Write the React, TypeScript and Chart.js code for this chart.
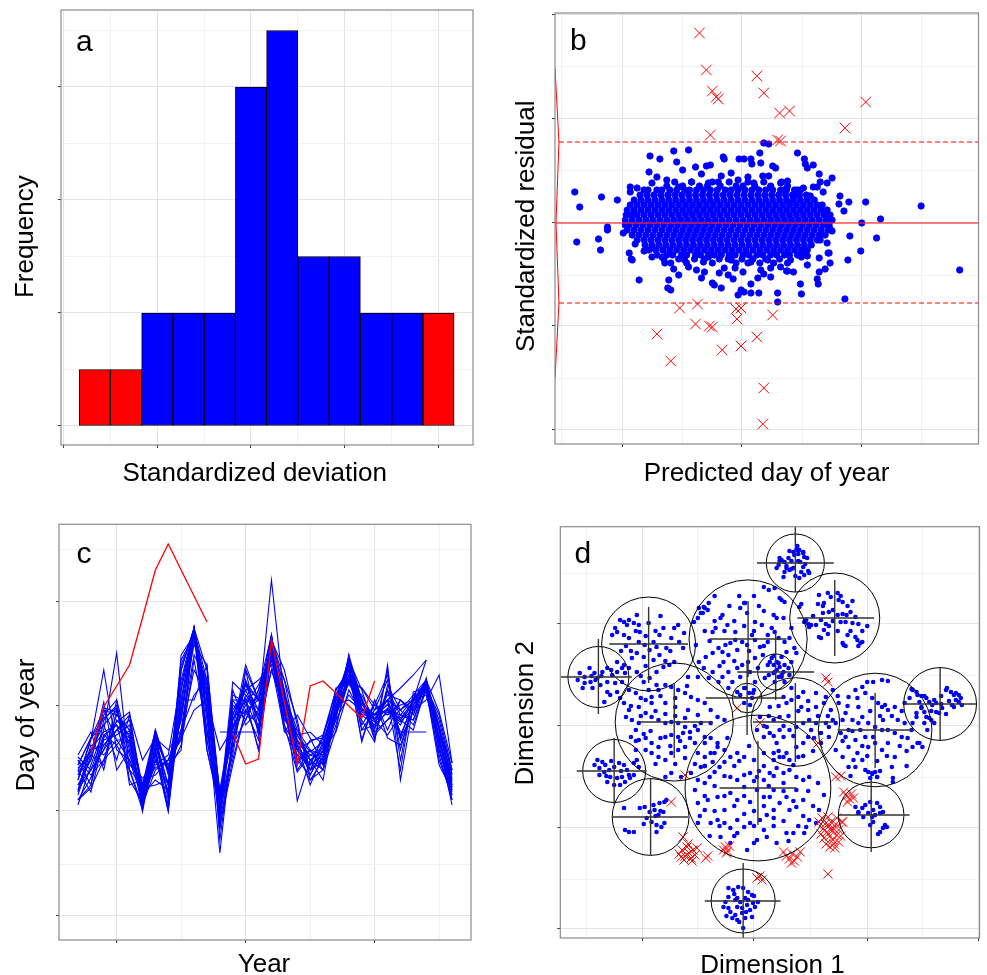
import React, { useEffect, useRef } from "react";
import { Chart, registerables } from "chart.js";
Chart.register(...registerables);

const FONT = "'Liberation Sans', Arial, Helvetica, sans-serif";
const BLUE = "#0000ff";
const RED = "#ff0000";
const N = null;

// ---------------- Panel a : histogram of standardized deviations
const binCenters = [-1.667, -1.333, -1, -0.667, -0.333, 0, 0.333, 0.667, 1, 1.333, 1.667, 2];
const binCounts = [1, 1, 2, 2, 2, 6, 7, 3, 3, 2, 2, 2];
const binOutlier = [true, true, false, false, false, false, false, false, false, false, false, true];
const aXTicks = [-2, -1, 0, 1, 2];
const aXMinor = [-1.5, -0.5, 0.5, 1.5];
const aYTicks = [0, 2, 4, 6];
const aYMinor = [1, 3, 5, 7];

// ---------------- Panel b : residuals vs predicted day
const bXTicks = [123, 244, 365];
const bXMinor = [62, 184, 305, 425];
const bYTicks = [-207, -103, 0, 104, 208];
const bYMinor = [-155, -52, 52, 156];
const bBand = [81, -80];
const bBandFrom = 59;
const bCurve = [55, 155, 59, 81, 56, 0, 59, -80, 55, -155];
const bOutliers = [201,190, 208,153, 214,132, 218,126, 220,124, 212,88, 259,147, 266,130, 282,110, 292,112, 369,121, 348,95, 280,83, 283,82,
  181,-85, 199,-81, 197,-101, 211,-103, 214,-104, 158,-111, 172,-138, 224,-127, 243,-123, 259,-114, 238,-86, 243,-85, 239,-96, 275,-92, 266,-165, 265,-201];
const bFringe = [75,31, 80,16, 77,-19, 99,-16, 101,-27, 102,26, 118,23, 108,-7, 108,-4, 124,-10, 130,-30, 132,-36, 140,-57, 145,-28, 131,36, 131,31, 138,35, 145,33,
  151,67, 161,64, 175,72, 190,73, 178,61, 184,53, 197,56, 208,57, 212,58, 203,49, 225,66, 226,64, 223,47, 233,50, 241,64, 246,64, 253,64, 254,59, 263,60, 262,70,
  266,80, 271,79, 275,57, 278,55, 265,47, 271,47, 300,70, 307,64, 308,59, 316,58, 310,55, 322,49, 335,45, 330,40, 323,41, 283,40, 290,42, 300,33, 299,28, 292,20,
  313,27, 320,36, 326,31, 343,27, 342,19, 352,21, 347,12, 369,21, 425,17, 384,4, 365,0, 353,-13, 380,-15, 364,-28, 351,-37, 464,-47, 348,-76, 333,-6, 335,-8,
  330,-20, 331,-30, 333,-40, 328,-46, 322,-49, 320,-56, 321,-61, 310,-42, 310,-33, 304,-34, 303,-61, 304,-71, 296,-49, 289,-48, 280,-70, 280,-79, 261,-70,
  253,-61, 253,-70, 246,-69, 240,-72, 243,-67, 235,-56, 230,-52, 223,-65, 216,-62, 214,-60, 206,-49, 203,-55, 170,-57, 169,-65, 172,-67, 136,-21, 133,-37,
  153,-25, 163,-34, 175,-46, 180,-52, 190,-44, 198,-47, 205,-39, 221,-50, 226,-45, 237,-45, 245,-49, 263,-47, 273,-45, 283,-44, 290,-48, 322,-35, 332,-30,
  273,-54, 266,-51, 260,-55, 150,51, 158,46, 153,40, 168,43, 180,36, 193,41, 210,40, 220,41, 240,43, 250,46, 256,40, 273,36, 286,33, 306,35, 316,36,
  153,-34, 166,-40, 186,-37, 210,-34, 233,-37, 253,-39, 270,-37, 293,-37, 306,-30];
// dense core of the cloud: [residual, predicted days...]
const bCoreRows = [
  [41, 176,193,214,231,250,266,284],
  [37, 168,184,201,209,222,238,245,257,273,290],
  [33, 149,158,163,171,178,186,191,198,205,212,219,227,233,240,247,254,261,268,275,283,289,297,303],
  [28, 141,148,155,162,169,176,183,190,197,204,211,218,225,232,239,246,253,260,267,274,281,288,295,302,309],
  [23, 135,142,149,156,163,170,177,184,191,198,205,212,219,226,233,240,247,254,261,268,275,282,289,296,303,310,317],
  [18, 131,138,145,152,159,166,173,180,187,194,201,208,215,222,229,236,243,250,257,264,271,278,285,292,299,306,313,320,325],
  [13, 128,135,142,149,156,163,170,177,184,191,198,205,212,219,226,233,240,247,254,261,268,275,282,289,296,303,310,317,324,330],
  [8, 127,132,138,145,152,159,166,173,180,187,194,201,208,215,222,229,236,243,250,257,264,271,278,285,292,299,306,313,320,327,333],
  [3, 126,133,140,147,154,161,168,175,182,189,196,203,210,217,224,231,238,245,252,259,266,273,280,287,294,301,308,315,322,329,335],
  [-2, 126,130,137,144,151,158,165,172,179,186,193,200,207,214,221,228,235,242,249,256,263,270,277,284,291,298,305,312,319,326,332],
  [-7, 128,135,142,149,156,163,170,177,184,191,198,205,212,219,226,233,240,247,254,261,268,275,282,289,296,303,310,317,324,331],
  [-12, 133,140,147,154,161,168,175,182,189,196,203,210,217,224,231,238,245,252,259,266,273,280,287,294,301,308,315,322,328],
  [-17, 138,145,152,159,166,173,180,187,194,201,208,215,222,229,236,243,250,257,264,271,278,285,292,299,306,313,320,323],
  [-22, 146,153,160,167,174,181,188,195,202,209,216,223,230,237,244,251,258,265,272,279,286,293,300,307,314],
  [-27, 150,157,164,171,178,185,192,199,206,213,220,227,234,241,248,255,262,269,276,283,290,297,304,310],
  [-32, 158,168,174,183,188,197,202,210,216,223,231,237,245,251,259,265,273,279,287,292,300],
  [-36, 165,180,196,206,221,230,244,255,268,282],
  [-40, 172,188,214,238,250,262,276,290],
];

// ---------------- Panel c : day of year per year
const cYears = [1977,1978,1979,1980,1981,1982,1983,1984,1985,1986,1987,1988,1989,1990,1991,1992,1993,1994,1995,1996,1997,1998,1999,2000,2001,2002,2003,2004,2005,2006];
const cXTicks = [1980, 1990, 2000];
const cXMinor = [1985, 1995, 2005];
const cYTicks = [84, 189, 294, 398];
const cYMinor = [136, 241, 346, 450];
const cRed = [
  [N,247,293,314,335,382,430,456,430,404, 378,N,N,N,N,N,N,N,N,N, N,N,N,N,N,N,N,N,N,N],
  [N,N,N,N,N,N,N,N,N,N, N,N,267,236,241,360,298,236,314,319, 307,294,282,319,N,N,N,N,N,N],
];
const cBlue = [
  [235,262,290,260,240,200,262,215,330,372, 260,195,300,280,310,350,275,250,230,255, 300,335,270,290,320,250,300,318,270,215],
  [210,230,250,285,270,195,230,240,260,370, 320,185,250,330,270,362,300,240,250,230, 285,345,300,265,280,290,275,310,245,200],
  [225,250,275,240,285,210,250,195,300,368, 290,200,280,300,250,345,320,280,220,240, 275,320,290,280,300,265,295,312,285,230],
  [200,215,265,275,230,190,265,230,280,372, 300,180,240,290,300,365,290,235,260,262, 310,330,260,300,270,300,285,322,250,210],
  [245,268,230,290,255,205,220,210,340,365, 250,190,310,275,290,340,280,270,240,220, 290,340,310,270,330,240,305,308,265,225],
  [215,240,285,300,220,198,245,188,310,372, 330,160,260,320,280,355,305,260,225,250, 268,310,285,285,290,280,270,315,240,205],
  [230,208,260,265,275,215,270,225,270,360, 310,195,290,310,320,335,270,245,235,265, 300,325,300,262,310,260,290,320,288,237],
  [205,245,298,230,250,200,235,245,320,372, 280,175,235,290,260,362,310,255,215,245, 280,345,275,295,285,295,300,305,255,195],
  [240,225,240,280,265,188,255,205,290,355, 335,200,270,335,300,350,290,230,250,235, 312,315,305,280,265,285,280,318,275,220],
  [220,260,330,250,240,210,260,235,250,372, 270,185,300,300,270,360,330,275,230,258, 290,340,290,290,300,230,308,312,260,215],
  [195,235,270,347,230,195,240,215,310,368, 300,190,255,280,310,365,285,260,245,240, 305,335,280,258,335,220,295,320,262,200],
  [230,250,255,270,280,205,265,200,345,365, 315,180,285,315,290,420,300,240,225,250, 285,325,295,285,290,275,300,315,270,230],
  [240,215,280,295,215,220,225,240,280,370, 290,147,265,295,315,345,310,199,240,230, 295,330,270,275,310,285,280,310,235,210],
  [210,255,245,260,260,200,250,190,330,372, 250,195,318,305,285,355,280,265,268,255, 300,340,300,268,280,300,290,300,325,237],
  [225,240,290,285,270,212,215,220,300,300, 335,205,275,290,275,330,295,250,235,262, 280,305,290,285,295,280,300,340,N,N],
  [215,230,250,270,262,215,262,250,270,305, 320,N,N,N,N,N,N,N,N,N, N,N,N,N,N,N,N,N,N,N],
  [N,N,N,N,N,N,N,N,N,N, N,268,268,268,268,330,290,265,240,248, 285,318,285,275,288,278,292,312,N,N],
  [235,262,275,290,245,205,268,228,255,340, 270,210,260,300,300,350,305,270,250,245, 290,320,312,290,300,268,268,268,N,N],
  [N,N,N,N,N,N,N,N,N,N, 268,200,270,305,290,360,300,255,235,245, 290,325,292,282,296,282,298,316,262,212],
  [200,222,262,278,288,198,240,210,285,368, 305,190,245,320,265,365,285,245,220,230, 270,335,300,260,315,290,305,320,250,205],
  [228,245,235,300,250,208,270,230,315,372, 285,198,295,285,305,345,275,228,245,252, 305,330,258,300,262,255,290,314,280,226],
  [N,N,N,N,N,N,N,N,N,N, N,N,N,N,N,N,N,N,N,N, N,N,N,285,300,312,325,340,N,N],
  [243,230,265,255,270,192,255,215,300,372, 260,188,280,310,280,360,320,255,230,238, 295,300,290,280,305,300,285,318,270,218],
  [220,262,282,292,235,222,232,240,262,290, 300,250,272,302,285,345,294,250,230,242, 288,322,288,278,292,280,295,313,258,208],
  [208,250,268,275,258,202,246,190,295,366, 310,170,260,330,300,358,300,250,258,265, 310,330,302,272,290,285,302,316,262,213],
  [N,222,255,270,285,240,262,230,265,330, 305,210,285,318,300,350,300,260,240,250, 295,330,290,282,N,N,N,N,N,N],
  [200,212,240,255,230,215,238,235,268,345, 320,205,280,315,300,345,305,265,248,258, 300,340,295,286,300,290,300,320,272,230],
  [232,248,292,288,262,200,260,205,335,370, 290,192,305,298,250,352,268,285,262,235, 285,318,312,295,325,262,300,316,258,222],
];

// ---------------- Panel d : two-dimensional ordination with clusters
const dXTicks = [-113, 0, 115, 228];
const dXMinor = [-170, -57, 57, 171];
const dYTicks = [-203, -102, 0, 102];
const dYMinor = [-153, -51, 51, 153];
// [centre x, centre y, radius, cross x from, cross x to, cross y from, cross y to]
const dClusters = [
  [42,163,29.5,3,81,134,205], [82,108,45.7,44,122,70,146], [189,22,37,152,226,-15,58], [123,-4,57.7,85,163,-42,33],
  [119,-89,33.3,86,158,-126,-54], [42,4,45,-1,81,-36,43], [4,-62,74,-35,43,-99,-15], [-6,87,60,-45,33,49,125],
  [22,54,18.3,-17,61,26,93], [-7,28,15,-49,31,-9,64], [-81,4,60,-117,-42,-32,43], [-107,82,47.7,-147,-67,43,119],
  [-158,49,31,-196,-124,12,87], [-142,-45,32,-180,-109,-78,-12], [-105,-91,39,-144,-67,-129,-52], [-11,-175,32.5,-50,27,-215,-137],
];
const dBlue = [
  44,180, 46,176, 50,174, 41,171, 51,169, 54,168, 47,164, 50,159, 40,158, 33,158, 30,149, 31,154, 25,161, 23,158, 28,166, 31,164, 36,156, 48,154, 51,151, 56,153, 43,176, 40,174, 45,172, 35,168, 26,168, 50,173, 26,165, 33,160, 55,155, 46,148, 38,157, 45,165, 36,175, 52,162, 38,165, 42,150,
  66,131, 75,133, 78,129, 85,133, 88,130, 90,124, 86,126, 71,123, 65,122, 48,122, 46,119, 70,113, 76,114, 80,116, 85,111, 90,112, 98,114, 94,111, 68,106, 58,101, 63,101, 73,102, 76,100, 88,104, 93,104, 100,103, 106,102, 98,95, 95,91, 103,89, 105,86, 108,83, 90,83, 93,80, 68,88, 51,104, 55,102, 103,109, 53,106, 56,99, 66,89, 71,96, 91,81, 106,80, 110,84,
  60,110, 70,120, 80,105, 95,120, 110,95, 115,100, 75,92, 85,95, 100,125,
  161,36, 165,34, 175,28, 178,24, 183,26, 185,23, 181,21, 170,18, 173,14, 165,13, 175,9, 178,8, 185,14, 191,18, 188,13, 195,36, 200,34, 205,33, 208,31, 210,28, 205,26, 201,21, 203,19, 208,24, 211,21, 160,37, 166,31, 173,30, 170,19, 165,9, 173,3, 180,6, 190,22, 196,38, 203,31, 153,23, 158,28, 161,3, 168,-17, 171,-21, 176,-4, 183,3,
  170,30, 180,15, 190,30, 198,25, 195,12, 168,24,
  80,36, 86,23, 96,29, 103,36, 110,39, 115,44, 121,44, 130,46, 136,45, 113,33, 120,28, 126,23, 133,21, 106,19, 93,13, 100,6, 110,9, 116,3, 123,-1, 130,-4, 136,-4, 143,-7, 150,-11, 156,-12, 160,-4, 88,-7, 93,-11, 103,-14, 96,-21, 105,-27, 110,-34, 116,-21, 123,-17, 130,-24, 136,-17, 143,-31, 140,-41, 120,-47, 125,-51, 141,-56, 103,-41, 96,-41, 76,-11, 83,3, 90,6, 108,-4, 113,-11, 131,6, 146,6, 153,3, 161,-21, 166,-17, 83,-24, 90,-31, 101,-34, 113,-44, 121,-11, 130,19, 136,16, 143,19, 106,3, 96,-4,
  85,30, 95,20, 105,28, 118,15, 128,10, 140,10, 150,15, 155,-25, 148,-20, 135,-30, 125,-35, 115,-30, 100,-5, 90,-15, 110,-20, 128,-45, 155,-40, 98,-50,
  116,-46, 120,-48, 123,-46, 125,-51, 118,-52, 141,-52, 103,-81, 106,-86, 110,-82, 113,-79, 118,-76, 125,-77, 128,-81, 121,-84, 123,-89, 120,-91, 116,-87, 128,-87, 131,-86, 121,-96, 118,-99, 133,-99, 131,-102, 128,-106, 126,-108, 135,-101, 106,-87, 111,-91,
  13,-1, 20,6, 26,9, 33,23, 38,26, 45,29, 48,19, 55,16, 63,19, 71,23, 78,16, 80,6, 73,3, 63,3, 56,6, 50,3, 43,-1, 36,-4, 30,-11, 23,-17, 20,-27, 26,-31, 33,-27, 43,-21, 50,-17, 55,-11, 61,-12, 68,-7, 58,-4, 26,-4, 16,-7, 10,-11, 3,-4, 6,9, 16,19, 30,29, 38,38, 50,34, 63,33, 73,29, 76,-1, 68,-17, 45,-31, 36,-34,
  15,10, 25,20, 35,10, 45,15, 55,25, 65,10, 75,10, 60,-25, 50,-30, 40,-10, 30,0, 20,-10, 10,0,
  -57,-54, -50,-57, -45,-51, -40,-46, -35,-41, -30,-36, -24,-31, -17,-27, -44,-27, -37,-21, -27,-12, -50,-17, -24,-51, -17,-54, -10,-49, -4,-47, 3,-51, 10,-54, 16,-47, 23,-42, 30,-47, 36,-44, 43,-51, 50,-54, 43,-64, 33,-71, 26,-77, 20,-84, 13,-89, 6,-94, -4,-97, -10,-101, -17,-107, -24,-102, -30,-97, -37,-94, -44,-97, -50,-84, -57,-77, -47,-74, -37,-71, -24,-67, -17,-74, -4,-76, 10,-71, 20,-64, 30,-57, 36,-84, 43,-81, 50,-74, 56,-94, 63,-97, 66,-84, 71,-69, 65,-57, 56,-51, 40,-107, 33,-107, 23,-117, 13,-111, 3,-114, 0,-117, -17,-94, -30,-84, -57,-97, -60,-64, -10,-61, 3,-64, 16,-71, -54,-41, -42,-36, -10,-31, 0,-34, 10,-27, 20,-34, 30,-31, 40,-39, 10,-104, 51,-107, 53,-101, -34,-111, -24,-117, -7,-124,
  -50,-40, -40,-60, -30,-50, -20,-40, -10,-70, 0,-55, 10,-40, 20,-50, 30,-65, 40,-75, 50,-90, 45,-100, 30,-95, 20,-100, 10,-80, 0,-85, -10,-88, -20,-80, -30,-70, -40,-85, -50,-70, -55,-90, -45,-110, -35,-100, -20,-110, 0,-100, 20,-92, 35,-115, 55,-65, 60,-80, 25,-25, -5,-20, -15,-35, 5,-45, 15,-60,
  -56,118, -51,119, -47,116, -46,123, -52,113, -57,108, -61,104, -32,111, -34,108, -42,94, -39,98, -19,94, -14,118, -9,123, -7,113, 1,104, 8,101, 14,91, 18,98, -2,91, -12,84, -19,86, -24,83, -29,81, -36,78, -42,73, -32,74, -26,71, -17,76, -7,81, 1,86, 6,79, 14,84, 9,71, 1,68, -6,64, -12,61, -17,58, -26,54, -32,49, -36,44, -42,54, -51,58, -46,48, -22,44, -14,49, -4,54, 4,58, 14,61, 11,48, 1,44, -9,38, -17,34, -26,38, -1,33, -49,69, -56,64, -59,81, -31,64, -27,101, 21,138, 28,126, 31,124, 20,111, 23,108, 30,108, 38,98, 21,94, 25,88, 31,84, 36,88, 41,78, 43,73, 33,74, 28,69, 23,64, 31,61, 38,64, 21,54, 28,51, 10,139, 15,136, 26,128, -10,123, -50,118, -54,113,
  -40,105, -30,95, -20,105, -10,100, 0,95, 10,115, -25,120, -15,130, 0,130, -35,60, -20,65, -5,75, 10,80, 20,70, -45,85, -50,95, 5,120, -40,130,
  18,68, 20,61, 23,56, 26,59, 30,54, 25,49, 31,44, 21,44, 35,58, 20,53, 16,64, 25,63, 15,51, 28,49, 36,51,
  -10,38, -5,33, -2,28, -10,23, -14,31, -4,21, 0,36,
  -132,23, -127,16, -130,9, -124,6, -117,3, -120,-4, -125,-11, -117,-14, -110,-12, -104,-17, -97,-21, -90,-11, -84,-9, -77,-11, -72,-7, -65,-6, -70,-1, -77,3, -84,4, -90,3, -97,6, -104,9, -110,13, -117,19, -110,26, -104,29, -97,36, -90,41, -84,39, -77,36, -70,33, -64,29, -57,26, -50,23, -44,16, -37,9, -30,6, -44,3, -54,3, -57,-4, -50,-11, -44,-12, -37,-17, -30,-24, -40,-27, -50,-31, -57,-27, -60,-17, -70,-21, -77,-24, -84,-27, -90,-34, -97,-31, -104,-27, -110,-24, -120,-24, -90,-51, -84,-47, -74,-51, -64,-47, -104,23, -90,23, -80,19, -67,16, -57,11, -127,36, -120,33, -107,36, -67,49, -57,49,
  -125,20, -115,10, -100,15, -90,12, -80,10, -70,8, -60,0, -65,-12, -75,-15, -85,-20, -95,-12, -105,-5, -112,-8, -120,-15, -100,-38, -80,-38, -70,-32, -60,-38, -50,-40, -95,30, -80,28, -68,40, -115,28,
  -136,106, -132,104, -129,101, -127,106, -122,103, -119,111, -117,101, -141,98, -144,91, -139,94, -132,91, -127,88, -116,94, -107,103, -102,84, -99,79, -106,76, -111,81, -119,73, -124,68, -112,69, -102,66, -96,71, -89,78, -84,88, -81,98, -92,98, -96,91, -77,101, -76,84, -71,93, -72,78, -81,64, -86,61, -92,59, -99,54, -106,48, -112,44, -99,41, -119,54, -127,58, -132,61, -139,64, -117,84,
  -130,80, -120,95, -110,90, -100,95, -95,110, -85,75, -90,65, -110,60, -125,75, -135,75, -115,50,
  -177,53, -172,49, -167,58, -162,53, -159,48, -154,54, -149,58, -144,51, -139,54, -134,58, -131,53, -166,44, -172,43, -174,38, -164,38, -156,41, -149,34, -146,31, -139,34, -136,28, -152,24, -161,46, -179,46, -149,44, -141,43, -134,44, -155,50, -145,56, -165,50,
  -159,-34, -154,-36, -151,-39, -157,-42, -152,-46, -147,-44, -142,-41, -137,-37, -132,-39, -129,-44, -127,-49, -134,-51, -139,-52, -146,-51, -149,-56, -142,-59, -136,-59, -131,-56, -126,-52, -122,-49, -117,-41, -122,-37, -119,-34, -162,-39, -157,-49, -145,-35, -135,-45, -150,-50,
  -132,-82, -116,-82, -111,-81, -106,-86, -101,-84, -96,-77, -91,-76, -92,-86, -97,-89, -104,-96, -99,-99, -94,-101, -91,-97, -99,-106, -109,-92, -102,-79, -131,-104, -127,-106, -122,-106, -89,-74, -100,-90, -112,-98, -95,-85,
  -26,-162, -21,-164, -16,-161, -11,-162, -6,-166, -2,-169, -9,-172, -14,-176, -19,-174, -26,-171, -29,-176, -26,-182, -17,-181, -12,-182, -7,-179, -1,-177, 4,-176, 1,-181, -4,-184, -12,-187, -19,-189, -22,-192, -17,-194, -9,-192, -2,-191, -11,-202, -17,-172, -6,-174, -31,-181, -24,-186, -20,-168, -8,-186, -15,-196, 0,-170, -28,-190,
];
const dOutliers = [73,48, 75,44, -17,18, 6,3, 65,-17, -70,-49, -84,-76, -72,-111,
  -76,-128, -73,-124, -70,-130, -68,-121, -66,-127, -64,-132, -62,-124, -60,-129, -58,-122, -71,-134, -67,-118, -63,-135, -74,-131, -49,-132, -47,-130,
  -31,-124, -29,-121, -27,-125, -25,-120, -28,-127, 3,-152, 8,-154, 6,-150,
  30,-126, 33,-130, 36,-133, 39,-128, 41,-135, 44,-131, 38,-137, 47,-126,
  66,-96, 69,-92, 72,-98, 75,-91, 78,-96, 80,-102, 83,-98, 86,-104, 74,-106, 77,-110, 80,-114, 84,-109, 71,-112, 73,-118, 77,-121, 81,-118, 86,-116, 88,-110, 79,-105, 70,-103, 89,-96, 84,-92, 76,-100, 82,-122, 68,-108,
  75,-148, 91,-66, 94,-70, 97,-73, 99,-68, 95,-76, 101,-72, 83,-51, 88,-50, 90,-96];

// ---------------- helpers
const pairs = (flat: number[]) => {
  const out: { x: number; y: number }[] = [];
  for (let i = 0; i < flat.length; i += 2) out.push({ x: flat[i], y: flat[i + 1] });
  return out;
};

function axis(min: number, max: number, major: number[], minor: number[], fixed: { w?: number; h?: number }) {
  return {
    type: "linear",
    min,
    max,
    offset: false,
    afterBuildTicks: (s: any) => {
      s.ticks = [...major.map((v) => ({ value: v, major: true })), ...minor.map((v) => ({ value: v, major: false }))].sort(
        (p, q) => p.value - q.value
      );
    },
    afterFit: (s: any) => {
      if (fixed.w !== undefined) s.width = fixed.w;
      if (fixed.h !== undefined) s.height = fixed.h;
    },
    ticks: { display: false },
    border: { display: false },
    title: { display: false },
    grid: {
      offset: false,
      drawTicks: true,
      tickLength: 3,
      color: (c: any) => (c.tick && c.tick.major ? "#e4e4e4" : "#f1f1f1"),
      lineWidth: (c: any) => (c.tick && c.tick.major ? 1.1 : 0.9),
      tickColor: (c: any) => (c.tick && c.tick.major ? "#333333" : "rgba(0,0,0,0)"),
      tickWidth: 1,
    },
  };
}

type Txt = { t: string; x: number; y: number; size: number; rot?: boolean; align?: CanvasTextAlign; base?: CanvasTextBaseline };

function framePlugin(texts: Txt[]) {
  return {
    id: "frame",
    afterDraw(chart: any) {
      const { ctx, chartArea: a } = chart;
      ctx.save();
      ctx.strokeStyle = "#8a8a8a";
      ctx.lineWidth = 1.2;
      ctx.strokeRect(a.left, a.top, a.right - a.left, a.bottom - a.top);
      ctx.fillStyle = "#000";
      for (const s of texts) {
        ctx.save();
        ctx.font = `${s.size}px ${FONT}`;
        ctx.textAlign = s.align || "center";
        ctx.textBaseline = s.base || "middle";
        ctx.translate(s.x, s.y);
        if (s.rot) ctx.rotate(-Math.PI / 2);
        ctx.fillText(s.t, 0, 0);
        ctx.restore();
      }
      ctx.restore();
    },
  };
}

function common(pad: { top: number; right: number }) {
  return {
    animation: false,
    responsive: false,
    devicePixelRatio: 1,
    events: [],
    layout: { padding: { left: 0, top: pad.top, right: pad.right, bottom: 0 } },
    plugins: { legend: { display: false }, tooltip: { enabled: false } },
  };
}

// ---------------- chart configs
function configA(): any {
  return {
    type: "bar",
    data: {
      datasets: [
        {
          data: binCenters.map((x, i) => ({ x, y: binCounts[i] })),
          backgroundColor: binOutlier.map((o) => (o ? RED : BLUE)),
          borderColor: "#000",
          borderWidth: 1,
          borderSkipped: false,
          barPercentage: 1,
          categoryPercentage: 1,
        },
      ],
    },
    options: {
      ...common({ top: 10, right: 20 }),
      scales: {
        x: axis(-2.027, 2.368, aXTicks, aXMinor, { h: 45 }),
        y: axis(-0.336, 7.363, aYTicks, aYMinor, { w: 61 }),
      },
    },
    plugins: [
      framePlugin([
        { t: "a", x: 76, y: 50.5, size: 30, align: "left", base: "alphabetic" },
        { t: "Standardized deviation", x: 254.7, y: 474.3, size: 26 },
        { t: "Frequency", x: 26, y: 236.7, size: 26, rot: true },
      ]),
    ],
  };
}

function configB(): any {
  const bXMin = 55, bXMax = 483;
  const core: { x: number; y: number }[] = [];
  for (const row of bCoreRows) for (let i = 1; i < row.length; i++) core.push({ x: row[i], y: row[0] });
  const bandData: any[] = [];
  for (const v of bBand) bandData.push({ x: bBandFrom, y: v }, { x: bXMax, y: v }, { x: bXMax, y: null });
  return {
    type: "scatter",
    data: {
      datasets: [
        { type: "line", data: [{ x: bXMin, y: 0 }, { x: bXMax, y: 0 }], borderColor: "rgba(255,40,40,0.8)", borderWidth: 1.6, pointRadius: 0 },
        { type: "line", data: bandData, borderColor: RED, borderWidth: 1, borderDash: [5, 3], pointRadius: 0, spanGaps: false },
        { type: "line", data: pairs(bCurve), borderColor: RED, borderWidth: 1, pointRadius: 0 },
        { data: pairs(bOutliers), pointStyle: "crossRot", pointRadius: 7.5, borderColor: RED, pointBorderColor: RED, pointBorderWidth: 1, backgroundColor: "rgba(0,0,0,0)" },
        { data: [...pairs(bFringe), ...core], pointRadius: 3.2, pointBorderWidth: 0.8, backgroundColor: BLUE, pointBackgroundColor: BLUE, borderColor: BLUE, pointBorderColor: BLUE },
      ],
    },
    options: {
      ...common({ top: 13, right: 4 }),
      scales: {
        x: axis(bXMin, bXMax, bXTicks, bXMinor, { h: 46 }),
        y: axis(-221, 210, bYTicks, bYMinor, { w: 62 }),
      },
    },
    plugins: [
      framePlugin([
        { t: "b", x: 77, y: 50, size: 30, align: "left", base: "alphabetic" },
        { t: "Predicted day of year", x: 273.5, y: 474.3, size: 26 },
        { t: "Standardized residual", x: 33.5, y: 226.3, size: 26, rot: true },
      ]),
    ],
  };
}

function configC(): any {
  const toPts = (arr: (number | null)[]) => arr.map((v, i) => ({ x: cYears[i], y: v }));
  const red = cRed.map((arr) => ({ data: toPts(arr), borderColor: RED, borderWidth: 1.3, pointRadius: 0, spanGaps: false, tension: 0 }));
  const blue = cBlue.map((arr) => ({ data: toPts(arr), borderColor: BLUE, borderWidth: 1.1, pointRadius: 0, spanGaps: false, tension: 0 }));
  return {
    type: "line",
    data: { datasets: [...red, ...blue] },
    options: {
      ...common({ top: 34.3, right: 22 }),
      scales: {
        x: axis(1975.53, 2007.47, cXTicks, cXMinor, { h: 35 }),
        y: axis(60, 475.7, cYTicks, cYMinor, { w: 59 }),
      },
    },
    plugins: [
      framePlugin([
        { t: "c", x: 76.5, y: 73.3, size: 30, align: "left", base: "alphabetic" },
        { t: "Year", x: 264, y: 474.6, size: 26 },
        { t: "Day of year", x: 26.5, y: 235, size: 26, rot: true },
      ]),
    ],
  };
}

function configD(): any {
  const cross: any[] = [];
  for (const c of dClusters) {
    cross.push({ x: c[3], y: c[1] }, { x: c[4], y: c[1] }, { x: c[4], y: null });
    cross.push({ x: c[0], y: c[5] }, { x: c[0], y: c[6] }, { x: c[0], y: null });
  }
  return {
    type: "scatter",
    data: {
      datasets: [
        { type: "line", data: cross, borderColor: "#333333", borderWidth: 1.4, pointRadius: 0, spanGaps: false },
        {
          data: dClusters.map((c) => ({ x: c[0], y: c[1] })),
          pointRadius: (ctx: any) => {
            const c = dClusters[ctx.dataIndex];
            const s = ctx.chart.scales.x;
            if (!c || !s) return 0;
            return Math.abs(s.getPixelForValue(c[0] + c[2]) - s.getPixelForValue(c[0]));
          },
          pointBackgroundColor: "rgba(0,0,0,0)",
          backgroundColor: "rgba(0,0,0,0)",
          pointBorderColor: "#000",
          borderColor: "#000",
          pointBorderWidth: 1,
        },
        { data: pairs(dOutliers), pointStyle: "crossRot", pointRadius: 6.5, borderColor: RED, pointBorderColor: RED, pointBorderWidth: 1, backgroundColor: "rgba(0,0,0,0)" },
        { data: pairs(dBlue), pointRadius: 2.3, pointBorderWidth: 0, backgroundColor: BLUE, pointBackgroundColor: BLUE, borderColor: BLUE },
      ],
    },
    options: {
      ...common({ top: 36.7, right: 1 }),
      scales: {
        x: axis(-196.7, 229, dXTicks, dXMinor, { h: 37 }),
        y: axis(-212, 199.3, dYTicks, dYMinor, { w: 67.3 }),
      },
    },
    plugins: [
      framePlugin([
        { t: "d", x: 81.5, y: 72.7, size: 30, align: "left", base: "alphabetic" },
        { t: "Dimension 1", x: 279.5, y: 476.3, size: 26 },
        { t: "Dimension 2", x: 33, y: 223.3, size: 26, rot: true },
      ]),
    ],
  };
}

function Panel({ left, top, width, height, make }: { left: number; top: number; width: number; height: number; make: () => any }) {
  const ref = useRef<HTMLCanvasElement>(null);
  useEffect(() => {
    const chart = new Chart(ref.current as HTMLCanvasElement, make());
    return () => chart.destroy();
  }, []);
  return (
    <div style={{ position: "absolute", left, top, width, height }}>
      <canvas ref={ref} width={width} height={height} style={{ display: "block", width, height }} />
    </div>
  );
}

export default function App() {
  return (
    <div style={{ position: "absolute", left: 0, top: 0, width: 987, height: 975, background: "#fff", overflow: "hidden" }}>
      <Panel left={0} top={0} width={493} height={490} make={configA} />
      <Panel left={493} top={0} width={494} height={490} make={configB} />
      <Panel left={0} top={490} width={493} height={485} make={configC} />
      <Panel left={493} top={490} width={494} height={485} make={configD} />
    </div>
  );
}
